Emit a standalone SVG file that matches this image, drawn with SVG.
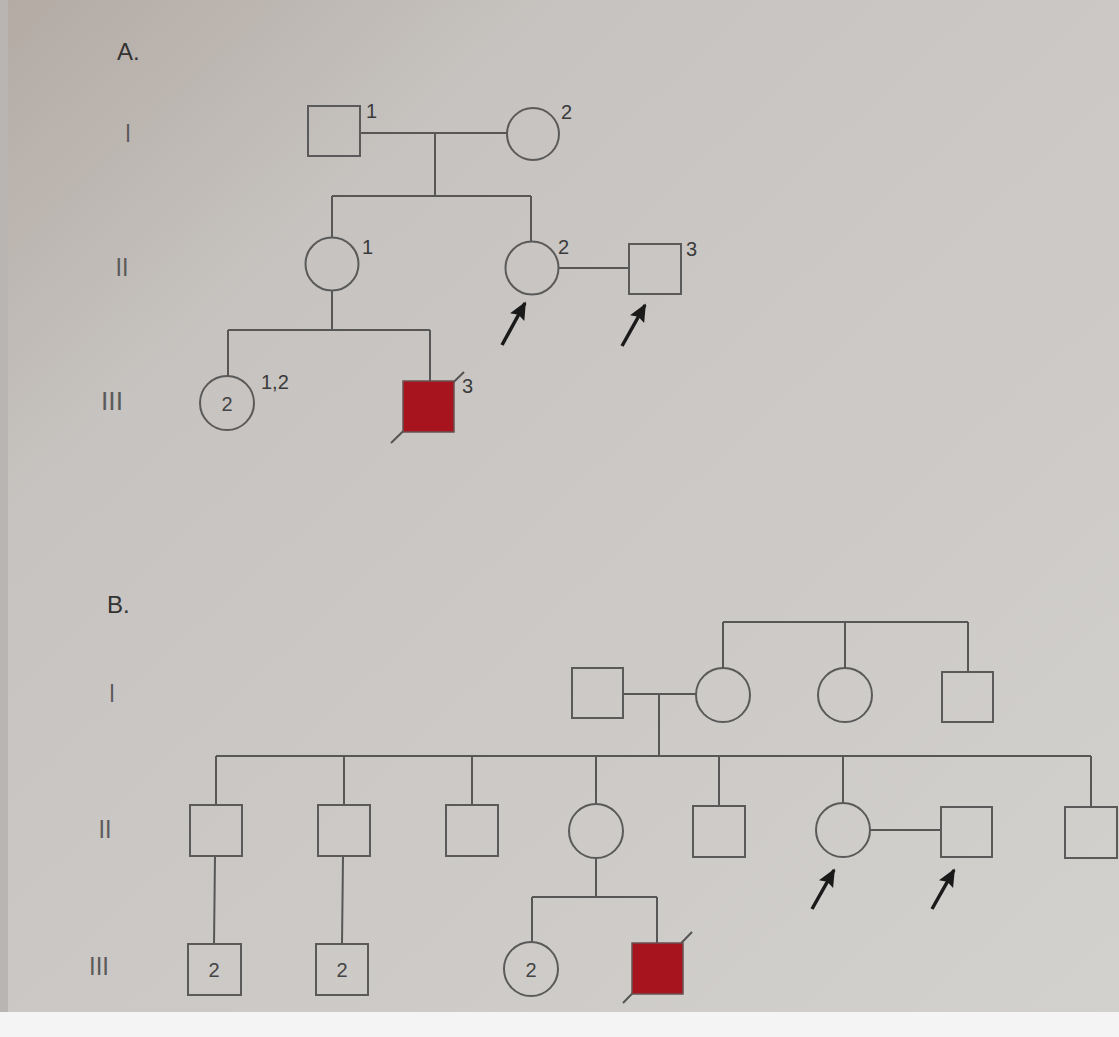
<svg xmlns="http://www.w3.org/2000/svg" width="1119" height="1037" viewBox="0 0 1119 1037">
<defs>
<linearGradient id="bg" x1="0" y1="0" x2="1" y2="1">
<stop offset="0" stop-color="#b3aaa3"/>
<stop offset="0.25" stop-color="#c6c3c0"/>
<stop offset="1" stop-color="#d3d1ce"/>
</linearGradient>
<marker id="ah" viewBox="0 0 10 10" refX="9" refY="5" markerUnits="userSpaceOnUse" markerWidth="20" markerHeight="18" orient="auto">
<path d="M0,0.5 L10,5 L0,9.5 L1.5,5 z" fill="#1a1a1a"/>
</marker>
</defs>
<style>
.ln{stroke:#575757;stroke-width:2;fill:none}
.sym{stroke:#5a5a5a;stroke-width:2;fill:none}
.aff{fill:#a8141d;stroke:#6a5050;stroke-width:1.5}
.sl{stroke:#555;stroke-width:2}
.lab{font-family:"Liberation Sans",Arial,sans-serif;font-size:20px;fill:#3a3a3a}
.in{font-family:"Liberation Sans",Arial,sans-serif;font-size:20px;fill:#444;text-anchor:middle}
.gen{font-family:"Liberation Sans",Arial,sans-serif;font-size:26px;fill:#5a5a5a;text-anchor:middle}
.ttl{font-family:"Liberation Sans",Arial,sans-serif;font-size:24px;fill:#333}
.arr{stroke:#1a1a1a;stroke-width:3.5;marker-end:url(#ah)}
</style>
<rect x="0" y="0" width="1119" height="1037" fill="url(#bg)"/>
<rect x="0" y="0" width="8" height="1037" fill="#b8b5b2"/>
<rect x="0" y="1012" width="1119" height="25" fill="#f4f4f4"/>

<text class="ttl" x="117" y="60">A.</text>
<text class="ttl" x="107" y="613">B.</text>
<text class="gen" x="128" y="142" textLength="6" lengthAdjust="spacingAndGlyphs">I</text>
<text class="gen" x="122" y="276" textLength="13" lengthAdjust="spacingAndGlyphs">II</text>
<text class="gen" x="112" y="410" textLength="22" lengthAdjust="spacingAndGlyphs">III</text>
<text class="gen" x="112" y="702" textLength="6" lengthAdjust="spacingAndGlyphs">I</text>
<text class="gen" x="105" y="838" textLength="13" lengthAdjust="spacingAndGlyphs">II</text>
<text class="gen" x="99" y="975" textLength="20" lengthAdjust="spacingAndGlyphs">III</text>

<g id="connectors">
<!-- Panel A -->
<line class="ln" x1="360" y1="133" x2="507" y2="133"/>
<line class="ln" x1="435" y1="133" x2="435" y2="196"/>
<line class="ln" x1="332" y1="196" x2="531" y2="196"/>
<line class="ln" x1="332" y1="196" x2="332" y2="238"/>
<line class="ln" x1="531" y1="196" x2="531" y2="241"/>
<line class="ln" x1="559" y1="268" x2="628" y2="268"/>
<line class="ln" x1="332" y1="291" x2="332" y2="330"/>
<line class="ln" x1="228" y1="330" x2="430" y2="330"/>
<line class="ln" x1="228" y1="330" x2="228" y2="377"/>
<line class="ln" x1="430" y1="330" x2="430" y2="381"/>
<!-- Panel B -->
<line class="ln" x1="623" y1="694" x2="696" y2="694"/>
<line class="ln" x1="659" y1="694" x2="659" y2="756"/>
<line class="ln" x1="723" y1="622" x2="968" y2="622"/>
<line class="ln" x1="723" y1="622" x2="723" y2="668"/>
<line class="ln" x1="845" y1="622" x2="845" y2="668"/>
<line class="ln" x1="968" y1="622" x2="968" y2="672"/>
<line class="ln" x1="216" y1="756" x2="1091" y2="756"/>
<line class="ln" x1="216" y1="756" x2="216" y2="805"/>
<line class="ln" x1="344" y1="756" x2="344" y2="805"/>
<line class="ln" x1="472" y1="756" x2="472" y2="805"/>
<line class="ln" x1="596" y1="756" x2="596" y2="804"/>
<line class="ln" x1="719" y1="756" x2="719" y2="806"/>
<line class="ln" x1="843" y1="756" x2="843" y2="804"/>
<line class="ln" x1="1091" y1="756" x2="1091" y2="808"/>
<line class="ln" x1="870" y1="830" x2="941" y2="830"/>
<line class="ln" x1="215" y1="857" x2="214" y2="944"/>
<line class="ln" x1="343" y1="857" x2="342" y2="944"/>
<line class="ln" x1="596" y1="859" x2="596" y2="897"/>
<line class="ln" x1="532" y1="897" x2="657" y2="897"/>
<line class="ln" x1="532" y1="897" x2="532" y2="942"/>
<line class="ln" x1="657" y1="897" x2="657" y2="943"/>
<!-- proband arrows -->
<line class="arr" x1="502" y1="345" x2="525" y2="303"/>
<line class="arr" x1="622" y1="346" x2="645" y2="305"/>
<line class="arr" x1="812" y1="909" x2="834" y2="870"/>
<line class="arr" x1="932" y1="909" x2="954" y2="870"/>
</g>

<!-- Panel A nodes -->
<g id="A-I-1"><rect class="sym" x="308" y="106" width="52" height="50"/><text class="lab" x="366" y="118">1</text></g>
<g id="A-I-2"><circle class="sym" cx="533" cy="134" r="26"/><text class="lab" x="561" y="119">2</text></g>
<g id="A-II-1"><circle class="sym" cx="332" cy="264" r="26.5"/><text class="lab" x="362" y="254">1</text></g>
<g id="A-II-2"><circle class="sym" cx="532" cy="268" r="26.5"/><text class="lab" x="558" y="254">2</text></g>
<g id="A-II-3"><rect class="sym" x="629" y="244" width="52" height="50"/><text class="lab" x="686" y="256">3</text></g>
<g id="A-III-1"><circle class="sym" cx="227" cy="403" r="27"/><text class="in" x="227" y="411">2</text><text class="lab" x="261" y="389">1,2</text></g>
<g id="A-III-3"><line class="sl" x1="391" y1="443" x2="464" y2="372"/><rect class="aff" x="403" y="381" width="51" height="51"/><text class="lab" x="462" y="393">3</text></g>

<!-- Panel B nodes -->
<g id="B-I-1"><rect class="sym" x="572" y="668" width="51" height="50"/></g>
<g id="B-I-2"><circle class="sym" cx="723" cy="695" r="27"/></g>
<g id="B-I-3"><circle class="sym" cx="845" cy="695" r="27"/></g>
<g id="B-I-4"><rect class="sym" x="942" y="672" width="51" height="50"/></g>
<g id="B-II-1"><rect class="sym" x="190" y="805" width="52" height="51"/></g>
<g id="B-II-2"><rect class="sym" x="318" y="805" width="52" height="51"/></g>
<g id="B-II-3"><rect class="sym" x="446" y="805" width="52" height="51"/></g>
<g id="B-II-4"><circle class="sym" cx="596" cy="831" r="27"/></g>
<g id="B-II-5"><rect class="sym" x="693" y="806" width="52" height="51"/></g>
<g id="B-II-6"><circle class="sym" cx="843" cy="830" r="27"/></g>
<g id="B-II-7"><rect class="sym" x="941" y="807" width="51" height="50"/></g>
<g id="B-II-8"><rect class="sym" x="1065" y="807" width="52" height="51"/></g>
<g id="B-III-1"><rect class="sym" x="188" y="944" width="53" height="51"/><text class="in" x="214" y="977">2</text></g>
<g id="B-III-2"><rect class="sym" x="316" y="944" width="52" height="51"/><text class="in" x="342" y="977">2</text></g>
<g id="B-III-3"><circle class="sym" cx="531" cy="969" r="27"/><text class="in" x="531" y="977">2</text></g>
<g id="B-III-4"><line class="sl" x1="623" y1="1003" x2="692" y2="932"/><rect class="aff" x="632" y="943" width="51" height="51"/></g>
</svg>
